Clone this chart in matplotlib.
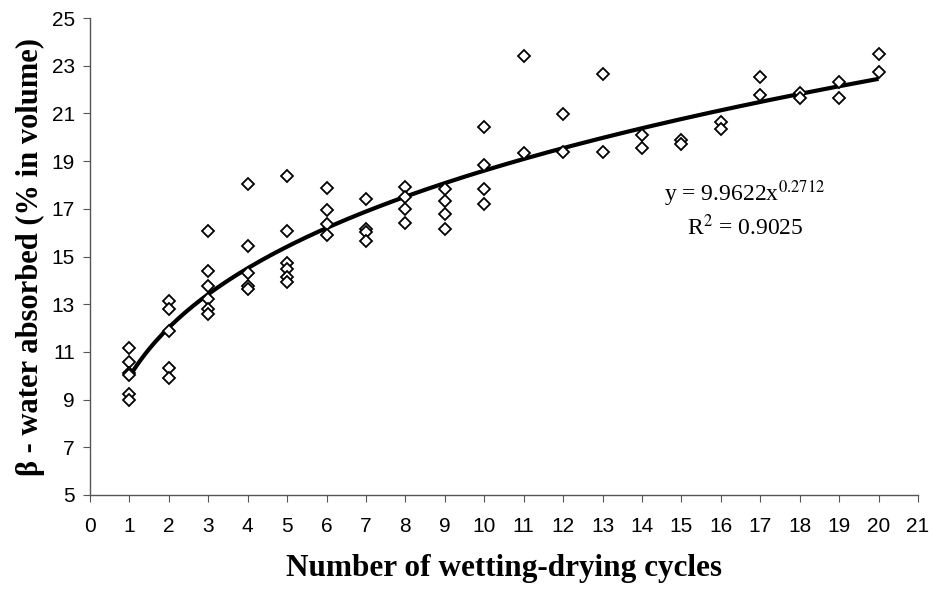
import numpy as np
import matplotlib
matplotlib.use("Agg")
import matplotlib.pyplot as plt

plt.rcParams["mathtext.fontset"] = "stix"

# Data
cycles = [1]*6 + [2]*5 + [3]*6 + [4]*5 + [5]*6 + [6]*4 + [7]*4 + [8]*4 + [9]*4 + [10]*4 \
         + [11]*2 + [12]*2 + [13]*2 + [14]*2 + [15]*2 + [16]*2 + [17]*2 + [18]*2 + [19]*2 + [20]*2
water = [11.18, 10.58, 10.13, 10.05, 9.22, 8.98,
         13.12, 12.80, 11.88, 10.31, 9.92,
         16.05, 14.41, 13.78, 13.22, 12.80, 12.59,
         18.02, 15.46, 14.30, 13.78, 13.64,
         18.38, 16.09, 14.72, 14.48, 14.16, 13.95,
         17.88, 16.94, 16.35, 15.91,
         17.40, 16.14, 16.02, 15.63,
         17.92, 17.50, 17.01, 16.42,
         17.81, 17.33, 16.77, 16.14,
         20.44, 18.83, 17.85, 17.19,
         23.39, 19.32,
         20.98, 19.39,
         22.65, 19.37,
         20.09, 19.53,
         19.88, 19.72,
         20.65, 20.33,
         22.51, 21.78,
         21.85, 21.64,
         22.31, 21.64,
         23.51, 22.72]

fit_a = 9.9622
fit_b = 0.2712
fit_r2 = 0.9025
fit_range = [1, 20]

x_ticks = list(range(0, 22))
y_ticks = list(range(5, 26, 2))

fig = plt.figure(figsize=(9.32, 5.89), dpi=100)
ax = fig.add_axes([90/932, 1 - 495/589, (918 - 90)/932, (495 - 18)/589])

xf = np.linspace(fit_range[0], fit_range[1], 200)
ax.plot(xf, fit_a * xf ** fit_b, color="black", lw=3.0, zorder=2, solid_capstyle="butt")
ax.plot(cycles, water, linestyle="none", marker="D", markersize=5.9,
        markerfacecolor="white", markeredgecolor="black", markeredgewidth=1.3, zorder=3)

ax.set_xlim(0, 21)
ax.set_ylim(5, 25)
ax.set_xticks(x_ticks)
ax.set_yticks(y_ticks)
ax.spines["top"].set_visible(False)
ax.spines["right"].set_visible(False)
for s in ("left", "bottom"):
    ax.spines[s].set_color("#555555")
    ax.spines[s].set_linewidth(1.0)
ax.tick_params(direction="out", length=5, width=0.8, color="#555555",
               labelsize=15)
ax.tick_params(axis="x", pad=11)
ax.tick_params(axis="y", pad=6)
for lab in ax.get_xticklabels() + ax.get_yticklabels():
    lab.set_family("Liberation Sans")

ax.set_xlabel("Number of wetting-drying cycles", family="Liberation Serif",
              fontweight="bold", fontsize=22.5, labelpad=13)
ax.set_ylabel("β - water absorbed (% in volume)", family="Liberation Serif",
              fontweight="bold", fontsize=22, labelpad=5)

ax.text(0.791, 0.631, "y = %.4fx$^{%.4f}$" % (fit_a, fit_b), transform=ax.transAxes,
        ha="center", va="center", family="Liberation Serif", fontsize=17)
ax.text(0.792, 0.560, "R$^2$ = %.4f" % fit_r2, transform=ax.transAxes,
        ha="center", va="center", family="Liberation Serif", fontsize=17)

fig.savefig("out.png", dpi=100, facecolor="white")
